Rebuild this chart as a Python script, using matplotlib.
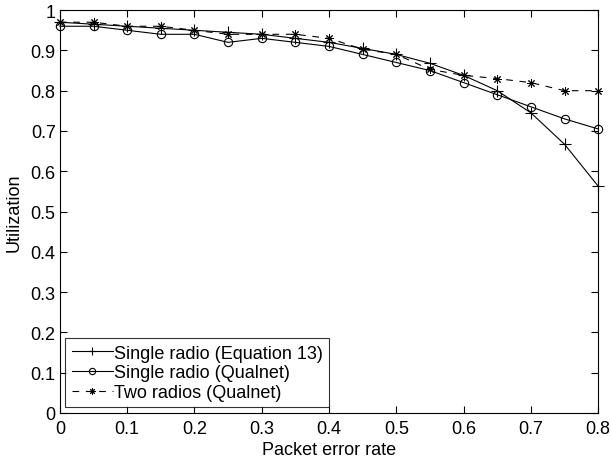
import matplotlib
matplotlib.use('Agg')
import matplotlib.pyplot as plt

plt.rcParams['font.family'] = ['Liberation Sans', 'DejaVu Sans']

# packet error rate
per = [0, 0.05, 0.1, 0.15, 0.2, 0.25, 0.3, 0.35, 0.4, 0.45, 0.5, 0.55, 0.6, 0.65, 0.7, 0.75, 0.8]

# utilization values
eq13 = [0.97, 0.965, 0.96, 0.955, 0.95, 0.945, 0.94, 0.93, 0.92, 0.905, 0.89, 0.868, 0.838, 0.80, 0.745, 0.667, 0.563]
qualnet_single = [0.96, 0.96, 0.95, 0.94, 0.94, 0.92, 0.93, 0.92, 0.91, 0.89, 0.87, 0.85, 0.82, 0.79, 0.76, 0.73, 0.705]
qualnet_two = [0.97, 0.97, 0.96, 0.96, 0.95, 0.94, 0.94, 0.94, 0.93, 0.903, 0.89, 0.853, 0.838, 0.83, 0.82, 0.80, 0.80]

labels = ['Single radio (Equation 13)', 'Single radio (Qualnet)', 'Two radios (Qualnet)']

fig = plt.figure(figsize=(6.11, 4.64), dpi=100)
ax = fig.add_axes([0.098, 0.108, 0.881, 0.868])

ax.plot(per, eq13, color='black', lw=0.8, marker='+', ms=8, mew=0.8, clip_on=False, label=labels[0])
ax.plot(per, qualnet_single, color='black', lw=0.8, marker='o', ms=6, mfc='none', mew=0.8,
        clip_on=False, label=labels[1])
# MATLAB-style asterisk: 8 spokes
ax.plot(per, qualnet_two, color='black', lw=0.8, ls=(0, (6, 6)), marker=(8, 2, 0), ms=6, mew=0.7,
        clip_on=False, label=labels[2])

ax.set_xlim(0, 0.8)
ax.set_ylim(0, 1)
ax.set_xticks([0, 0.1, 0.2, 0.3, 0.4, 0.5, 0.6, 0.7, 0.8])
ax.set_xticklabels(['0', '0.1', '0.2', '0.3', '0.4', '0.5', '0.6', '0.7', '0.8'])
ax.set_yticks([0, 0.1, 0.2, 0.3, 0.4, 0.5, 0.6, 0.7, 0.8, 0.9, 1])
ax.set_yticklabels(['0', '0.1', '0.2', '0.3', '0.4', '0.5', '0.6', '0.7', '0.8', '0.9', '1'])
ax.tick_params(direction='in', top=True, right=True, length=5, width=0.8, labelsize=13)
ax.tick_params(axis='x', pad=5)
ax.tick_params(axis='y', pad=3)
for s in ax.spines.values():
    s.set_linewidth(0.8)

ax.set_xlabel('Packet error rate', fontsize=13, labelpad=3)
ax.set_ylabel('Utilization', fontsize=13, labelpad=6)

leg = ax.legend(loc='lower left', fontsize=13, frameon=True, fancybox=False, edgecolor='black',
                borderpad=0.35, handlelength=2.3, handletextpad=0.05, labelspacing=0.15,
                borderaxespad=0.3, markerscale=0.75)
leg.get_frame().set_linewidth(0.8)

fig.savefig('out.png', dpi=100)
